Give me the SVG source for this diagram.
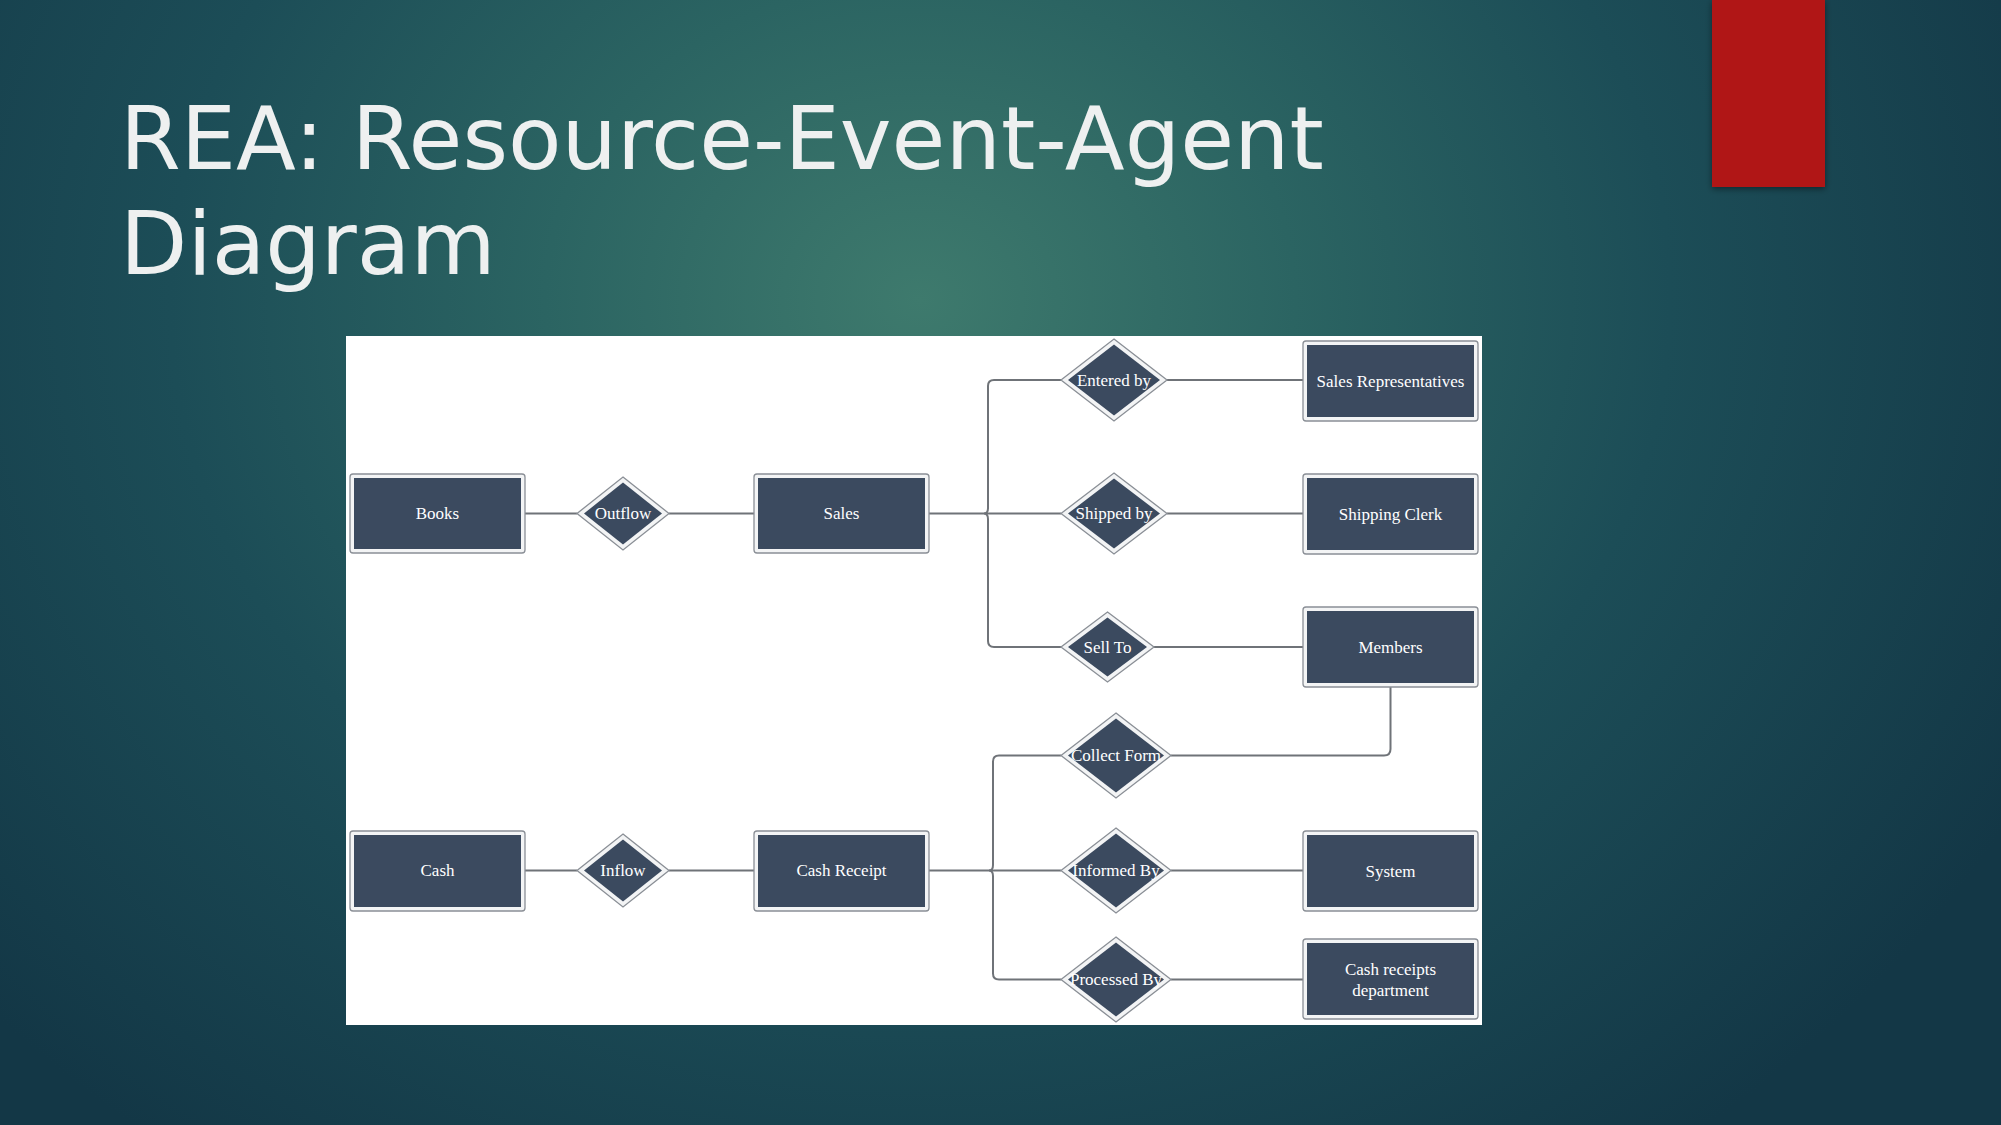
<svg xmlns="http://www.w3.org/2000/svg" width="2001" height="1125" viewBox="0 0 2001 1125">
<defs>
<radialGradient id="bg" cx="920" cy="300" r="1250" gradientUnits="userSpaceOnUse" gradientTransform="translate(920 300) scale(1 0.85) translate(-920 -300)">
<stop offset="0" stop-color="#3e7a6d"/>
<stop offset="0.3" stop-color="#2b6462"/>
<stop offset="0.6" stop-color="#1c4d57"/>
<stop offset="1" stop-color="#133746"/>
</radialGradient>
<filter id="sh" x="-20%" y="-20%" width="140%" height="140%">
<feDropShadow dx="0" dy="2" stdDeviation="3" flood-color="#000" flood-opacity="0.45"/>
</filter>
</defs>
<style>
.title{font-family:"DejaVu Sans",Verdana,sans-serif;font-size:87.5px;fill:#eef0f0}
.out{fill:#f3f4f5;stroke:#8a8f96;stroke-width:1.3}
.in{fill:#3b4a5f}
.lbl{font-family:"Liberation Serif","Times New Roman",serif;font-size:17px;fill:#ffffff;text-anchor:middle;dominant-baseline:central}
.conn{fill:none;stroke:#6f7378;stroke-width:2}
</style>
<rect x="0" y="0" width="2001" height="1125" fill="url(#bg)"/>
<rect x="1712" y="0" width="113" height="187" fill="#b01816" filter="url(#sh)"/>
<text class="title" x="120" y="169">REA: Resource-Event-Agent</text>
<text class="title" x="120" y="274">Diagram</text>
<rect x="346" y="336" width="1136" height="689" fill="#ffffff"/>

<g id="connectors">
<path class="conn" d="M525 513.5H577"/>
<path class="conn" d="M669 513.5H754"/>
<path class="conn" d="M929 513.5H984"/>
<path class="conn" d="M1061 380H994Q988 380 988 386V508Q988 513.5 984 513.5Q988 513.5 988 519V641Q988 647 994 647H1061"/>
<path class="conn" d="M984 513.5H1061"/>
<path class="conn" d="M1167 380H1303"/>
<path class="conn" d="M1167 513.5H1303"/>
<path class="conn" d="M1154 647H1303"/>
<path class="conn" d="M1390.5 687V749Q1390.5 755.5 1384 755.5H1171"/>
<path class="conn" d="M525 870.5H577"/>
<path class="conn" d="M669 870.5H754"/>
<path class="conn" d="M929 870.5H989"/>
<path class="conn" d="M1061 755.5H999Q993 755.5 993 761.5V865Q993 870.5 989 870.5Q993 870.5 993 876V973.5Q993 979.5 999 979.5H1061"/>
<path class="conn" d="M989 870.5H1061"/>
<path class="conn" d="M1171 870.5H1303"/>
<path class="conn" d="M1171 979.5H1303"/>
</g>

<g id="books"><rect class="out" x="350" y="474" width="175" height="79" rx="3"/><rect class="in" x="354" y="478" width="167" height="71"/><text class="lbl" x="437.5" y="513.5">Books</text></g>
<g id="outflow"><polygon class="out" points="623,477 669,513.5 623,550 577,513.5"/><polygon class="in" points="623,482.5 662,513.5 623,544.5 584,513.5"/><text class="lbl" x="623" y="513.5">Outflow</text></g>
<g id="sales"><rect class="out" x="754" y="474" width="175" height="79" rx="3"/><rect class="in" x="758" y="478" width="167" height="71"/><text class="lbl" x="841.5" y="513.5">Sales</text></g>
<g id="entered-by"><polygon class="out" points="1114,339 1167,380 1114,421 1061,380"/><polygon class="in" points="1114,344.5 1160,380 1114,415.5 1068,380"/><text class="lbl" x="1114" y="380">Entered by</text></g>
<g id="sales-reps"><rect class="out" x="1303" y="341" width="175" height="80" rx="3"/><rect class="in" x="1307" y="345" width="167" height="72"/><text class="lbl" x="1390.5" y="381">Sales Representatives</text></g>
<g id="shipped-by"><polygon class="out" points="1114,473 1167,513.5 1114,554 1061,513.5"/><polygon class="in" points="1114,478.5 1160,513.5 1114,548.5 1068,513.5"/><text class="lbl" x="1114" y="513.5">Shipped by</text></g>
<g id="shipping-clerk"><rect class="out" x="1303" y="474" width="175" height="80" rx="3"/><rect class="in" x="1307" y="478" width="167" height="72"/><text class="lbl" x="1390.5" y="514">Shipping Clerk</text></g>
<g id="sell-to"><polygon class="out" points="1107.5,612 1154,647 1107.5,682 1061,647"/><polygon class="in" points="1107.5,617.5 1147,647 1107.5,676.5 1068,647"/><text class="lbl" x="1107.5" y="647">Sell To</text></g>
<g id="members"><rect class="out" x="1303" y="607" width="175" height="80" rx="3"/><rect class="in" x="1307" y="611" width="167" height="72"/><text class="lbl" x="1390.5" y="647">Members</text></g>
<g id="collect-form"><polygon class="out" points="1116,713 1171,755.5 1116,798 1061,755.5"/><polygon class="in" points="1116,718.5 1164,755.5 1116,792.5 1068,755.5"/><text class="lbl" x="1116" y="755.5">Collect Form</text></g>
<g id="cash"><rect class="out" x="350" y="831" width="175" height="80" rx="3"/><rect class="in" x="354" y="835" width="167" height="72"/><text class="lbl" x="437.5" y="870.5">Cash</text></g>
<g id="inflow"><polygon class="out" points="623,834 669,870.5 623,907 577,870.5"/><polygon class="in" points="623,839.5 662,870.5 623,901.5 584,870.5"/><text class="lbl" x="623" y="870.5">Inflow</text></g>
<g id="cash-receipt"><rect class="out" x="754" y="831" width="175" height="80" rx="3"/><rect class="in" x="758" y="835" width="167" height="72"/><text class="lbl" x="841.5" y="870.5">Cash Receipt</text></g>
<g id="informed-by"><polygon class="out" points="1116,828 1171,870.5 1116,913 1061,870.5"/><polygon class="in" points="1116,833.5 1164,870.5 1116,907.5 1068,870.5"/><text class="lbl" x="1116" y="870.5">Informed By</text></g>
<g id="system"><rect class="out" x="1303" y="831" width="175" height="80" rx="3"/><rect class="in" x="1307" y="835" width="167" height="72"/><text class="lbl" x="1390.5" y="871">System</text></g>
<g id="processed-by"><polygon class="out" points="1116,937 1171,979.5 1116,1022 1061,979.5"/><polygon class="in" points="1116,942.5 1164,979.5 1116,1016.5 1068,979.5"/><text class="lbl" x="1116" y="979.5">Processed By</text></g>
<g id="cash-receipts-dept"><rect class="out" x="1303" y="939" width="175" height="80" rx="3"/><rect class="in" x="1307" y="943" width="167" height="72"/><text class="lbl" x="1390.5" y="969">Cash receipts</text><text class="lbl" x="1390.5" y="990">department</text></g>
</svg>
